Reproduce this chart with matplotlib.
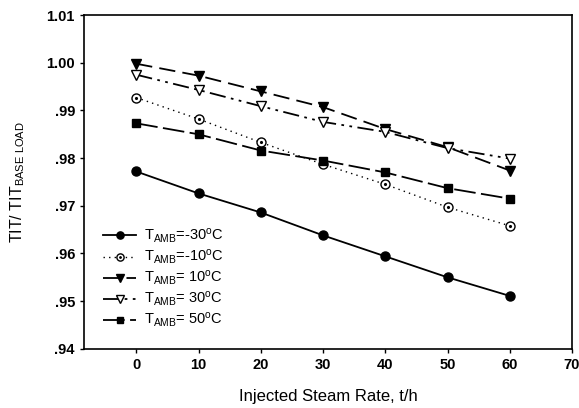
import matplotlib
matplotlib.use("Agg")
import matplotlib.pyplot as plt
from matplotlib.ticker import FixedLocator, FixedFormatter

plt.rcParams['font.family'] = ['Liberation Sans', 'DejaVu Sans']
plt.rcParams['mathtext.fontset'] = 'custom'
plt.rcParams['mathtext.rm'] = 'Liberation Sans'
plt.rcParams['mathtext.it'] = 'Liberation Sans:italic'
plt.rcParams['mathtext.bf'] = 'Liberation Sans:bold'

# данные
steam = [0, 10, 20, 30, 40, 50, 60]
t_m30 = [0.9772, 0.9726, 0.9686, 0.9638, 0.9594, 0.9550, 0.9511]
t_m10 = [0.9927, 0.9882, 0.9833, 0.9787, 0.9745, 0.9697, 0.9658]
t_p10 = [0.9998, 0.9973, 0.9940, 0.9907, 0.9861, 0.9823, 0.9774]
t_p30 = [0.9975, 0.9943, 0.9909, 0.9876, 0.9855, 0.9821, 0.9799]
t_p50 = [0.9873, 0.9850, 0.9816, 0.9795, 0.9770, 0.9737, 0.9715]

labels = [r'T$_{\mathrm{AMB}}$=-30$^{\mathrm{o}}$C',
          r'T$_{\mathrm{AMB}}$=-10$^{\mathrm{o}}$C',
          r'T$_{\mathrm{AMB}}$= 10$^{\mathrm{o}}$C',
          r'T$_{\mathrm{AMB}}$= 30$^{\mathrm{o}}$C',
          r'T$_{\mathrm{AMB}}$= 50$^{\mathrm{o}}$C']

yticks = [0.94, 0.95, 0.96, 0.97, 0.98, 0.99, 1.00, 1.01]
ytick_labels = ['.94', '.95', '.96', '.97', '.98', '.99', '1.00', '1.01']
xticks = [0, 10, 20, 30, 40, 50, 60, 70]

fig = plt.figure(figsize=(5.79, 4.08), dpi=100)
ax = fig.add_axes([0.145, 0.145, 0.843, 0.818])

ms = 6.5
ls_m10 = (0, (1, 3))
ls_p10 = (0, (9, 4))
ls_p30 = (0, (9, 3, 1.5, 3, 1.5, 3))
ls_p50 = (0, (12, 3))

l1, = ax.plot(steam, t_m30, color='black', lw=1.3, ls='-', marker='o', ms=ms)
l2, = ax.plot(steam, t_m10, color='black', lw=1.0, ls=ls_m10, marker='o', ms=ms,
              mfc='white', mec='black')
d2, = ax.plot(steam, t_m10, ls='none', marker='.', ms=2.5, color='black')
l3, = ax.plot(steam, t_p10, color='black', lw=1.3, ls=ls_p10, marker='v', ms=ms)
l4, = ax.plot(steam, t_p30, color='black', lw=1.3, ls=ls_p30, marker='v', ms=ms,
              mfc='white', mec='black')
l5, = ax.plot(steam, t_p50, color='black', lw=1.3, ls=ls_p50, marker='s', ms=6)

ax.set_xlim(-8.4, 70)
ax.set_ylim(0.94, 1.01)
ax.xaxis.set_major_locator(FixedLocator(xticks))
ax.yaxis.set_major_locator(FixedLocator(yticks))
ax.yaxis.set_major_formatter(FixedFormatter(ytick_labels))
ax.tick_params(direction='out', length=3, width=1, labelsize=10.5)
for lab in ax.get_xticklabels() + ax.get_yticklabels():
    lab.set_fontweight('bold')
for s in ax.spines.values():
    s.set_linewidth(1.2)

ax.set_xlabel('Injected Steam Rate, t/h', fontsize=12, labelpad=12)
ax.set_ylabel(r'TIT/ TIT$_{\mathrm{BASE\ LOAD}}$', fontsize=11.5, labelpad=14)

ax.legend([l1, (l2, d2), l3, l4, l5], labels, loc='lower left',
          bbox_to_anchor=(0.04, 0.058), frameon=False, fontsize=10.5,
          handlelength=2.2, labelspacing=0.18, handletextpad=0.6, borderaxespad=0.0,
          borderpad=0.0, markerscale=0.8)

fig.savefig('out.png', dpi=100)
